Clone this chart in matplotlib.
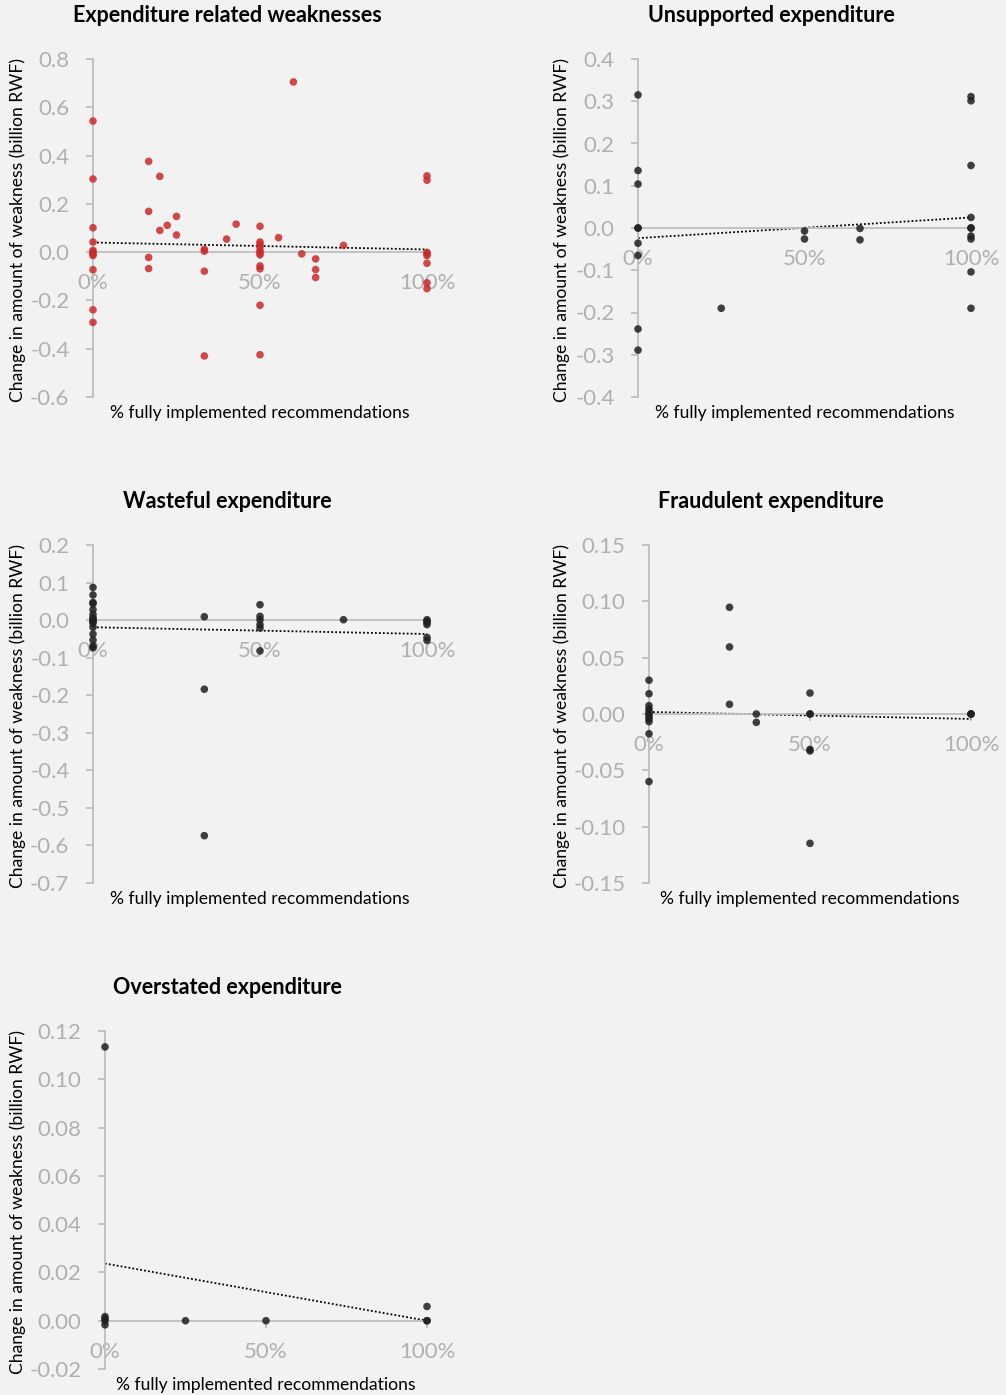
import matplotlib
matplotlib.use("Agg")
import matplotlib.pyplot as plt
from matplotlib.ticker import FuncFormatter

plt.rcParams['font.family'] = ['Lato', 'DejaVu Sans']

# ---- data: share of recommendations fully implemented vs change in weakness (billion RWF)
titles = ["Expenditure related weaknesses", "Unsupported expenditure",
          "Wasteful expenditure", "Fraudulent expenditure", "Overstated expenditure"]

all_x = [0, 0, 0, 0, 0, 0, 0, 0, 0, 0, 0,
         1/6, 1/6, 1/6, 1/6, 0.2, 0.2, 2/9, 0.25, 0.25,
         1/3, 1/3, 1/3, 1/3, 0.4, 3/7,
         0.5, 0.5, 0.5, 0.5, 0.5, 0.5, 0.5, 0.5, 0.5, 0.5, 0.5,
         5/9, 0.6, 0.625, 2/3, 2/3, 2/3, 0.75,
         1, 1, 1, 1, 1, 1, 1, 1]
all_y = [0.543, 0.303, 0.101, 0.042, 0.007, 0.0, -0.007, -0.014, -0.073, -0.239, -0.291,
         0.376, 0.169, -0.022, -0.068, 0.314, 0.090, 0.111, 0.148, 0.071,
         0.012, 0.004, -0.079, -0.430, 0.054, 0.116,
         0.107, 0.042, 0.032, 0.021, 0.007, -0.003, -0.011, -0.057, -0.069, -0.220, -0.425,
         0.060, 0.705, -0.007, -0.028, -0.072, -0.105, 0.028,
         0.316, 0.298, -0.001, -0.007, -0.014, -0.046, -0.127, -0.151]

unsup_x = [0, 0, 0, 0, 0, 0, 0, 0, 0, 0.25, 0.5, 0.5, 2/3, 2/3,
           1, 1, 1, 1, 1, 1, 1, 1, 1, 1]
unsup_y = [0.315, 0.136, 0.104, 0.0, 0.0, -0.036, -0.065, -0.239, -0.289,
           -0.190, -0.007, -0.026, -0.001, -0.028,
           0.311, 0.301, 0.148, 0.025, 0.0, 0.0, -0.019, -0.026, -0.104, -0.190]

waste_x = [0] * 16 + [1/3, 1/3, 1/3, 0.5, 0.5, 0.5, 0.5, 0.5, 0.5, 0.75,
                      1, 1, 1, 1, 1, 1]
waste_y = [0.087, 0.067, 0.047, 0.044, 0.028, 0.015, 0.006, 0.003, -0.001, -0.004,
           -0.008, -0.019, -0.037, -0.053, -0.069, -0.074,
           0.009, -0.184, -0.574,
           0.041, 0.010, 0.001, -0.012, -0.021, -0.082,
           0.001,
           0.001, -0.003, -0.006, -0.012, -0.046, -0.054]

fraud_x = [0] * 11 + [0.25, 0.25, 0.25, 1/3, 1/3, 0.5, 0.5, 0.5, 0.5, 0.5, 0.5, 1, 1, 1]
fraud_y = [0.030, 0.018, 0.0074, 0.0044, 0.002, 0.0, -0.0024, -0.0044, -0.0068, -0.0175, -0.060,
           0.0947, 0.0595, 0.0086, 0.0, -0.0074,
           0.0186, 0.0, 0.0, -0.0314, -0.0328, -0.1148,
           0.0, 0.0, 0.0]

over_x = [0, 0, 0, 0, 0, 0.25, 0.5, 1, 1, 1]
over_y = [0.1134, 0.0017, 0.0008, 0.0, -0.0017, 0.0, 0.0, 0.0059, 0.0, 0.0]

# linear trend lines (value at 0% and at 100%)
trend_all = [0.040, 0.011]
trend_unsup = [-0.024, 0.025]
trend_waste = [-0.019, -0.037]
trend_fraud = [0.0018, -0.0044]
trend_over = [0.0237, 0.0]

ylims = [(-0.6, 0.8), (-0.4, 0.4), (-0.7, 0.2), (-0.15, 0.15), (-0.02, 0.12)]
ysteps = [0.2, 0.1, 0.1, 0.05, 0.02]
ydecimals = [1, 1, 1, 2, 2]
xticks = [0, 0.5, 1]
xticklabels = ["0%", "50%", "100%"]

panels = [(all_x, all_y, trend_all), (unsup_x, unsup_y, trend_unsup),
          (waste_x, waste_y, trend_waste), (fraud_x, fraud_y, trend_fraud),
          (over_x, over_y, trend_over)]
colors = ["#CC2A2A", "#202020", "#202020", "#202020", "#202020"]

# ---- layout (pixel boxes of plot areas)
W, H = 1006, 1395
boxes = [(93, 427, 59, 397), (638, 971, 59, 397),
         (93, 427, 545, 883), (649, 971, 545, 883),
         (105, 427, 1031, 1369)]
title_pos = [(227, 16), (771, 16), (227, 501), (771, 501), (227, 988)]
xlabel_pos = [(260, 413), (805, 413), (260, 899), (810, 899), (266, 1385)]
ylabel_x = [18, 562, 18, 562, 18]

BG = "#F2F2F2"
AX = "#BFBFBF"
TICK = "#B0B0B0"

fig = plt.figure(figsize=(W / 100, H / 100), dpi=100, facecolor=BG)

for i, ((xs, ys, tr), box) in enumerate(zip(panels, boxes)):
    l, r, t, b = box
    ax = fig.add_axes([l / W, 1 - b / H, (r - l) / W, (b - t) / H])
    ax.set_facecolor(BG)
    ax.patch.set_alpha(0)
    lo, hi = ylims[i]
    ax.set_xlim(0, 1)
    ax.set_ylim(lo, hi)

    for s in ("top", "right"):
        ax.spines[s].set_visible(False)
    ax.spines["left"].set_color(AX)
    ax.spines["left"].set_linewidth(1.3)
    ax.spines["bottom"].set_position(("data", 0))
    ax.spines["bottom"].set_color(AX)
    ax.spines["bottom"].set_linewidth(1.3)

    n = int(round((hi - lo) / ysteps[i]))
    ax.set_yticks([lo + k * ysteps[i] for k in range(n + 1)])
    d = ydecimals[i]
    ax.yaxis.set_major_formatter(FuncFormatter(lambda v, p, d=d: f"{v:.{d}f}".replace("−", "-")))
    ax.tick_params(axis="y", direction="out", length=5, width=1.3, color=AX,
                   labelcolor=TICK, labelsize=16, pad=12)
    ax.set_xticks(xticks)
    ax.set_xticklabels(xticklabels)
    ax.tick_params(axis="x", direction="out", length=5, width=1.3, color=AX,
                   labelcolor=TICK, labelsize=16, pad=10)

    ax.plot([0, 1], tr, ls=(0, (1, 1.2)), color="black", lw=1.3, zorder=2)
    ax.scatter(xs, ys, s=30, color=colors[i], alpha=0.85, edgecolors="none",
               zorder=3, clip_on=False)

    tx, ty = title_pos[i]
    fig.text(tx / W, 1 - ty / H, titles[i], ha="center", va="center",
             fontsize=15.5, fontweight="bold", color="black")
    lx, ly = xlabel_pos[i]
    fig.text(lx / W, 1 - ly / H, "% fully implemented recommendations",
             ha="center", va="center", fontsize=12.6, color="black")
    fig.text(ylabel_x[i] / W, 1 - ((t + b) / 2 + 2) / H,
             "Change in amount of weakness (billion RWF)",
             ha="center", va="center", rotation=90, fontsize=12.6, color="black")

fig.savefig("out.png", dpi=100, facecolor=BG)
